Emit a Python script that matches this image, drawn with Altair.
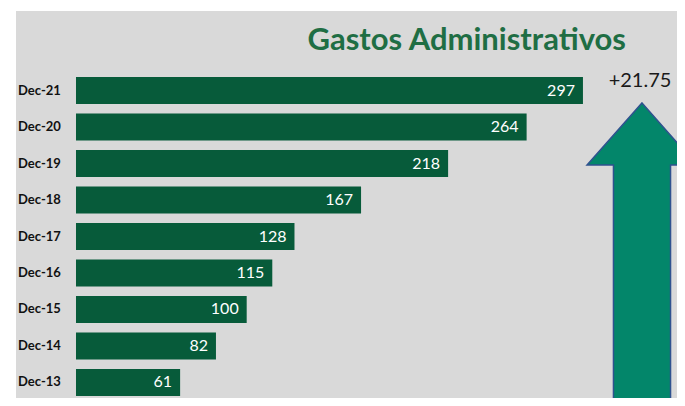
import altair as alt
import pandas as pd

categories = ["Dec-21", "Dec-20", "Dec-19", "Dec-18", "Dec-17", "Dec-16", "Dec-15", "Dec-14", "Dec-13"]
values = [297, 264, 218, 167, 128, 115, 100, 82, 61]
title_text = "Gastos Administrativos"
change_label = "+21.75"

df = pd.DataFrame({"cat": categories, "val": values, "base": [0] * len(values)})

W, H = 661, 387
xscale = alt.Scale(domain=[-35.15, 352.1], nice=False, zero=False)
yscale = alt.Scale(domain=categories, range=[66, 385], paddingInner=0.26, paddingOuter=0)

base = alt.Chart(df)

bars = base.mark_bar(color="#075b3a").encode(
    x=alt.X("val:Q", scale=xscale, axis=None),
    x2="base:Q",
    y=alt.Y("cat:N", scale=yscale, sort=categories, axis=None),
)

vals = base.mark_text(align="right", baseline="middle", dx=-8, color="white",
                      font="Lato", fontSize=16).encode(
    x=alt.X("val:Q", scale=xscale),
    y=alt.Y("cat:N", scale=yscale, sort=categories),
    text="val:Q",
)

cats = base.mark_text(align="left", baseline="middle", color="#111111",
                      font="Lato", fontSize=13, fontWeight="bold").encode(
    x=alt.value(2),
    y=alt.Y("cat:N", scale=yscale, sort=categories),
    text="cat:N",
)

arrow_path = ("M0,-1 L0.364,-0.589 L0.189,-0.589 L0.189,1 L-0.189,1 "
              "L-0.189,-0.589 L-0.364,-0.589 Z")
arrow = alt.Chart(pd.DataFrame({"a": [1]})).mark_point(
    shape=arrow_path, filled=True, fill="#03866a", stroke="#2f528f",
    strokeWidth=1.5, opacity=1, size=302 ** 2,
).encode(x=alt.value(626), y=alt.value(243))

change = alt.Chart(pd.DataFrame({"t": [change_label]})).mark_text(
    align="center", baseline="middle", font="Lato", fontSize=20, color="#1a1a1a",
).encode(x=alt.value(624), y=alt.value(70), text="t:N")

chart = alt.layer(bars, vals, cats, arrow, change).properties(
    width=W, height=H,
    title=alt.TitleParams(title_text, anchor="end", font="Lato", fontSize=31,
                          fontWeight="bold", color="#1f6e44", baseline="alphabetic",
                          dx=-74, dy=74),
    padding={"left": 8, "top": 3, "right": 0, "bottom": 0},
    autosize=alt.AutoSizeParams(type="none"),
    background="white",
).configure_view(fill="#d9d9d9", stroke=None)

chart.save("out.html", embed_options={"renderer": "svg", "actions": False})
